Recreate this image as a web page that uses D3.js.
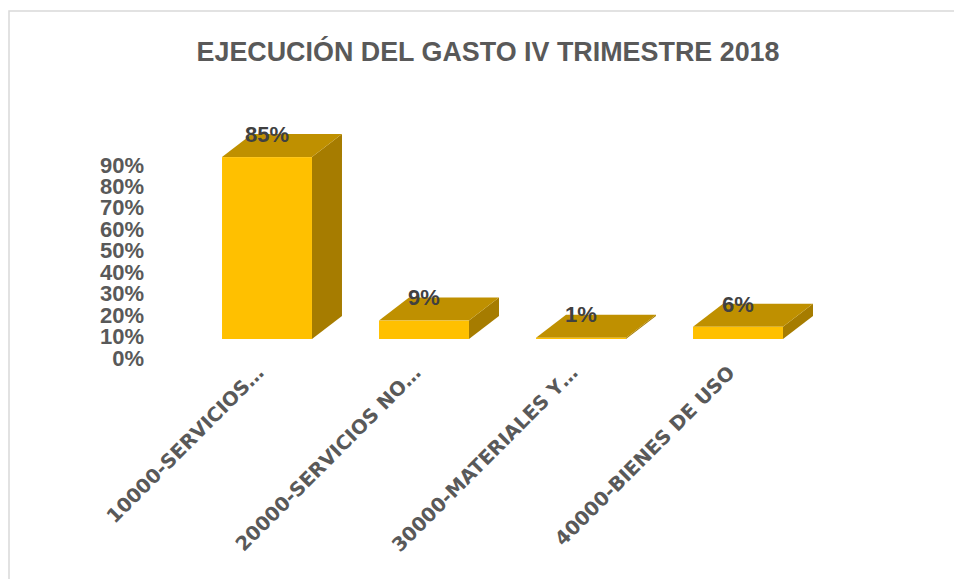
<!DOCTYPE html>
<html>
<head>
<meta charset="utf-8">
<script src="https://cdn.jsdelivr.net/npm/d3@7"></script>
<style>
  body { margin: 0; background: #fff; }
  text { font-family: "Liberation Sans", Arial, sans-serif; }
</style>
</head>
<body>
<div id="chart"></div>
<script>
// data
var categories = ["10000-SERVICIOS…", "20000-SERVICIOS NO…", "30000-MATERIALES Y…", "40000-BIENES DE USO"];
var values = [0.85, 0.086, 0.006, 0.057];
var yTicks = [0, 0.1, 0.2, 0.3, 0.4, 0.5, 0.6, 0.7, 0.8, 0.9];
var title = "EJECUCIÓN DEL GASTO IV TRIMESTRE 2018";

function main() {
    var width = 954, height = 579;
    var base = 339;            // front bottom of the bars
    var depthX = 30, depthY = -23;

    var svg = d3.select("#chart")
        .append("svg")
        .attr("width", width)
        .attr("height", height);

    // chart frame
    svg.append("rect")
        .attr("x", 9).attr("y", 11)
        .attr("width", 980).attr("height", 620)
        .attr("fill", "#fff")
        .attr("stroke", "#d9d9d9")
        .attr("stroke-width", 1.5);

    // title
    svg.append("text")
        .attr("x", 488).attr("y", 61)
        .attr("text-anchor", "middle")
        .attr("textLength", 583)
        .attr("lengthAdjust", "spacingAndGlyphs")
        .style("font-size", "27px")
        .style("font-weight", "bold")
        .style("fill", "#595959")
        .text(title);

    // scales
    var x = d3.scaleBand()
        .domain(categories)
        .range([188.5, 816.5])
        .paddingInner(0.427)
        .paddingOuter(0.2135);

    var y = d3.scaleLinear()
        .domain([0, 1])
        .range([base, base - 214]);

    // y axis labels sit on the back wall, so they get their own scale
    var yAxisScale = d3.scaleLinear()
        .domain([0, 0.9])
        .range([358, 165]);

    var yAxis = svg.append("g")
        .attr("transform", "translate(144,0)")
        .call(d3.axisLeft(yAxisScale).tickValues(yTicks).tickFormat(d3.format(".0%")).tickSize(0).tickPadding(0));
    yAxis.select(".domain").remove();
    yAxis.selectAll("text")
        .style("font-family", "'Liberation Sans', Arial, sans-serif")
        .style("font-size", "22px")
        .style("font-weight", "bold")
        .style("fill", "#595959");

    var data = categories.map(function (c, i) { return { cat: c, value: values[i] }; });
    var bw = x.bandwidth();

    var bars = svg.selectAll("g.bar")
        .data(data)
        .enter()
        .append("g")
        .attr("class", "bar");

    // right side face
    bars.append("polygon")
        .attr("points", function (d) {
            var x0 = x(d.cat) + bw, yt = y(d.value);
            return [[x0, yt], [x0 + depthX, yt + depthY], [x0 + depthX, base + depthY], [x0, base]].join(" ");
        })
        .attr("fill", "#A67C00");

    // top face
    bars.append("polygon")
        .attr("points", function (d) {
            var x0 = x(d.cat), yt = y(d.value);
            return [[x0, yt], [x0 + depthX, yt + depthY], [x0 + bw + depthX, yt + depthY], [x0 + bw, yt]].join(" ");
        })
        .attr("fill", "#BF9000");

    // front face
    bars.append("rect")
        .attr("x", function (d) { return x(d.cat); })
        .attr("y", function (d) { return y(d.value); })
        .attr("width", bw)
        .attr("height", function (d) { return base - y(d.value); })
        .attr("fill", "#FFC000");

    // value labels
    bars.append("text")
        .attr("x", function (d) { return x(d.cat) + bw / 2; })
        .attr("y", function (d) { return y(d.value) + depthY; })
        .attr("dy", "0.35em")
        .attr("text-anchor", "middle")
        .style("font-size", "22px")
        .style("font-weight", "bold")
        .style("fill", "#404040")
        .text(function (d) { return d3.format(".0%")(d.value); });

    // category labels, rotated
    svg.selectAll("text.cat")
        .data(categories)
        .enter()
        .append("text")
        .attr("class", "cat")
        .attr("transform", function (d) {
            return "translate(" + (x(d) + bw / 2 - 2) + ",374) rotate(-45)";
        })
        .attr("text-anchor", "end")
        .style("font-family", "'DejaVu Sans', sans-serif")
        .style("font-size", "19.5px")
        .style("font-weight", "bold")
        .style("fill", "#595959")
        .text(function (d) { return d; });
}

main();
</script>
</body>
</html>
